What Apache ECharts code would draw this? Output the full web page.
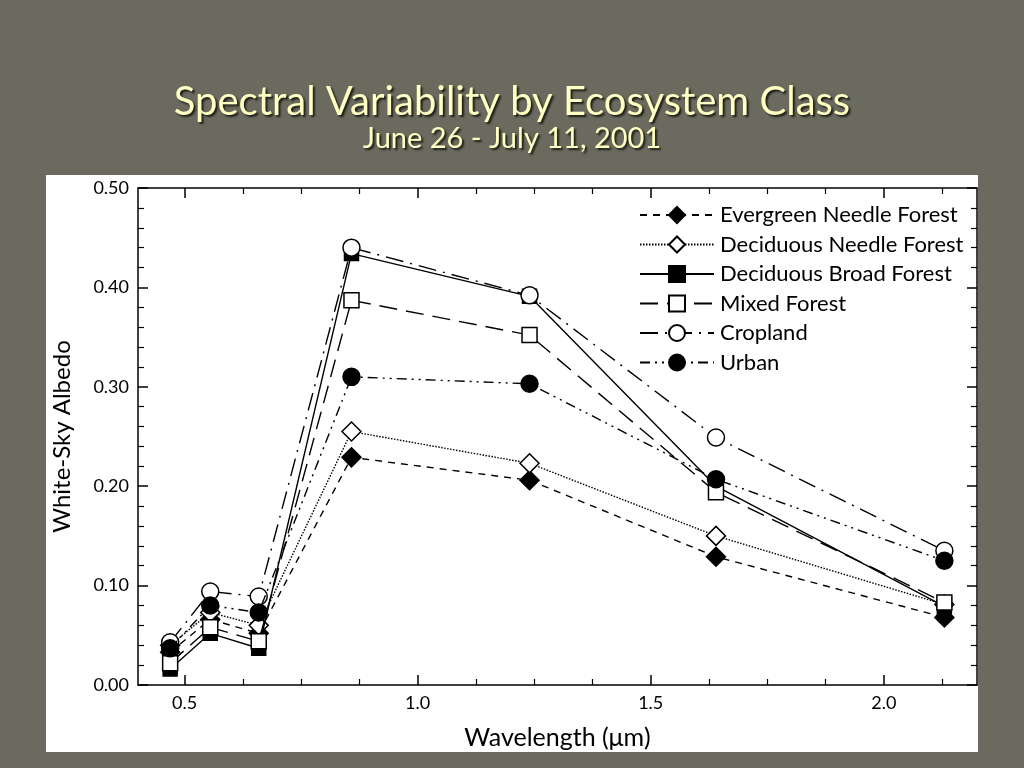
<!DOCTYPE html>
<html>
<head>
<meta charset="utf-8">
<script src="https://cdn.jsdelivr.net/npm/echarts@6/dist/echarts.min.js"></script>
<style>html,body{margin:0;padding:0;background:#6a6b5e;}#c{width:1024px;height:768px;}</style>
</head>
<body>
<div id="c"></div>
<script>
// ---- data ----
const wavelengths = [0.469, 0.555, 0.659, 0.858, 1.24, 1.64, 2.13];
const seriesNames = ['Evergreen Needle Forest','Deciduous Needle Forest','Deciduous Broad Forest','Mixed Forest','Cropland','Urban'];
const evergreenNeedle = [0.033, 0.066, 0.052, 0.229, 0.206, 0.129, 0.068];
const deciduousNeedle = [0.040, 0.073, 0.060, 0.255, 0.223, 0.150, 0.081];
const deciduousBroad  = [0.016, 0.052, 0.037, 0.434, 0.391, 0.200, 0.079];
const mixedForest     = [0.022, 0.058, 0.044, 0.387, 0.352, 0.194, 0.083];
const cropland        = [0.043, 0.094, 0.089, 0.440, 0.392, 0.249, 0.135];
const urban           = [0.037, 0.080, 0.073, 0.310, 0.303, 0.207, 0.125];
const xMajorTicks = [0.5, 1.0, 1.5, 2.0];
const xMinorTicks = [0.625, 0.75, 0.875, 1.125, 1.25, 1.375, 1.625, 1.75, 1.875, 2.125];

const font = 'Lato, "Open Sans", sans-serif';
const pair = arr => arr.map((v, i) => [wavelengths[i], v]);

const styles = [
  {data: evergreenNeedle, symbol: 'diamond', size: 19, fill: '#000', dash: [7, 6]},
  {data: deciduousNeedle, symbol: 'diamond', size: 19, fill: '#fff', dash: [1.5, 1.5]},
  {data: deciduousBroad,  symbol: 'rect',    size: 14, fill: '#000', dash: 'solid'},
  {data: mixedForest,     symbol: 'rect',    size: 15, fill: '#fff', dash: [18, 9]},
  {data: cropland,        symbol: 'circle',  size: 17, fill: '#fff', dash: [18, 7, 2, 7]},
  {data: urban,           symbol: 'circle',  size: 17, fill: '#000', dash: [10, 5, 2, 5, 2, 5]}
];

const series = styles.map((s, i) => ({
  name: seriesNames[i],
  type: 'line',
  xAxisIndex: 0,
  yAxisIndex: 0,
  data: pair(s.data),
  symbol: s.symbol,
  symbolSize: s.size,
  showAllSymbol: true,
  lineStyle: {color: '#000', width: 1.4, type: s.dash},
  itemStyle: {color: s.fill, borderColor: '#000', borderWidth: 1.5},
  emphasis: {disabled: true},
  animation: false,
  z: 3 + i
}));

const xBase = {type: 'value', min: 0.4, max: 2.2, splitLine: {show: false}};
const tickLabel = v => v.toFixed(1);

const chart = echarts.init(document.getElementById('c'));
chart.setOption({
  backgroundColor: '#6a6b5e',
  animation: false,
  title: {
    text: 'Spectral Variability by Ecosystem Class',
    subtext: 'June 26 - July 11, 2001',
    left: 'center',
    top: 77,
    itemGap: 2,
    textStyle: {color: '#ffffc4', fontSize: 40, fontWeight: 'normal', fontFamily: 'Lato, sans-serif',
      textShadowColor: '#1e1e18', textShadowOffsetX: 2, textShadowOffsetY: 2, textShadowBlur: 2},
    subtextStyle: {color: '#ffffc4', fontSize: 29, fontFamily: 'Lato, sans-serif',
      textShadowColor: '#1e1e18', textShadowOffsetX: 2, textShadowOffsetY: 2, textShadowBlur: 2}
  },
  graphic: [{
    type: 'rect', z: -100, silent: true,
    shape: {x: 46, y: 175, width: 932, height: 577},
    style: {fill: '#ffffff'}
  }],
  grid: {left: 138, right: 47, top: 188, bottom: 83, show: false},
  legend: {
    orient: 'vertical',
    left: 634,
    top: 199,
    itemWidth: 74,
    itemHeight: 20,
    itemGap: 7.5,
    data: seriesNames,
    textStyle: {color: '#000', fontSize: 22, fontFamily: font, padding: [0, 0, 0, 1]},
    selectedMode: false
  },
  xAxis: [
    Object.assign({}, xBase, {
      position: 'bottom',
      name: 'Wavelength (μm)', nameLocation: 'middle', nameGap: 40,
      nameTextStyle: {color: '#000', fontSize: 25, fontFamily: font},
      axisLine: {show: true, onZero: false, lineStyle: {color: '#000', width: 1.5}},
      axisTick: {show: true, inside: true, length: 10, customValues: xMajorTicks, lineStyle: {color: '#000', width: 1.5}},
      axisLabel: {show: true, customValues: xMajorTicks, formatter: tickLabel, color: '#000', fontSize: 18, fontFamily: font, margin: 9}
    }),
    Object.assign({}, xBase, {
      position: 'bottom',
      axisLine: {show: false, onZero: false},
      axisTick: {show: true, inside: true, length: 6, customValues: xMinorTicks, lineStyle: {color: '#000', width: 1.2}},
      axisLabel: {show: false}
    }),
    Object.assign({}, xBase, {
      position: 'top',
      axisLine: {show: true, onZero: false, lineStyle: {color: '#000', width: 1.5}},
      axisTick: {show: true, inside: true, length: 10, customValues: xMajorTicks, lineStyle: {color: '#000', width: 1.5}},
      axisLabel: {show: false}
    }),
    Object.assign({}, xBase, {
      position: 'top',
      axisLine: {show: false, onZero: false},
      axisTick: {show: true, inside: true, length: 6, customValues: xMinorTicks, lineStyle: {color: '#000', width: 1.2}},
      axisLabel: {show: false}
    })
  ],
  yAxis: [
    {
      type: 'value', min: 0, max: 0.5, interval: 0.1, position: 'left',
      name: 'White-Sky Albedo', nameLocation: 'middle', nameGap: 64,
      nameTextStyle: {color: '#000', fontSize: 24, fontFamily: font},
      splitLine: {show: false},
      axisLine: {show: true, onZero: false, lineStyle: {color: '#000', width: 1.5}},
      axisTick: {show: true, inside: true, length: 10, lineStyle: {color: '#000', width: 1.5}},
      minorTick: {show: true, splitNumber: 5, length: 6, lineStyle: {color: '#000', width: 1.2}},
      axisLabel: {formatter: v => v.toFixed(2), color: '#000', fontSize: 18, fontFamily: font, margin: 9}
    },
    {
      type: 'value', min: 0, max: 0.5, interval: 0.1, position: 'right',
      splitLine: {show: false},
      axisLine: {show: true, onZero: false, lineStyle: {color: '#000', width: 1.5}},
      axisTick: {show: true, inside: true, length: 10, lineStyle: {color: '#000', width: 1.5}},
      minorTick: {show: true, splitNumber: 5, length: 6, lineStyle: {color: '#000', width: 1.2}},
      axisLabel: {show: false}
    }
  ],
  series: series
});
</script>
</body>
</html>
